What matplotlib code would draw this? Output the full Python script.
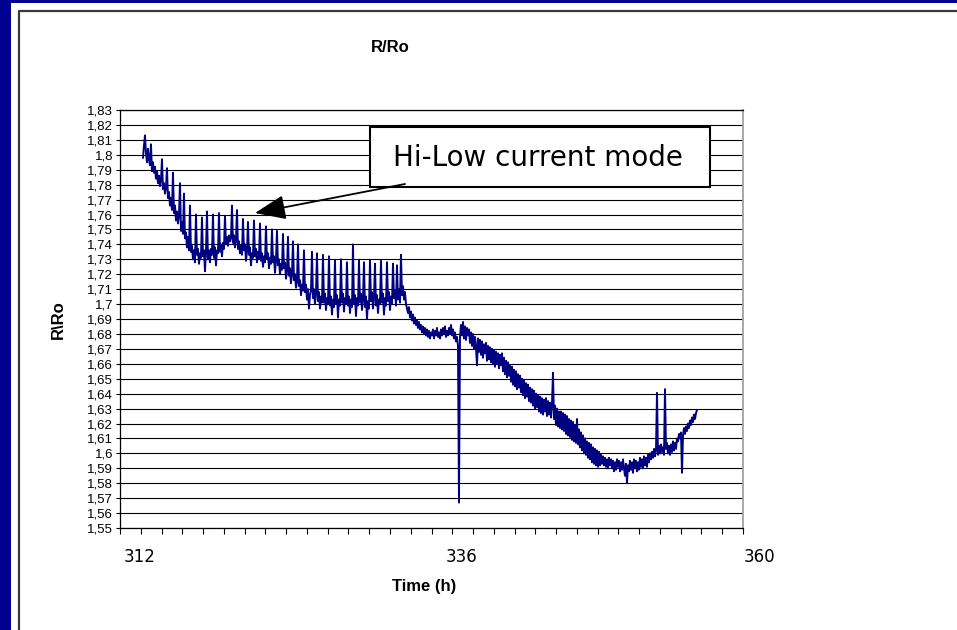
import numpy as np
import matplotlib
matplotlib.use("Agg")
import matplotlib.pyplot as plt
from matplotlib.patches import Rectangle

# ---------------- data ----------------
t_start = 313.77          # h, first sample
t_step = 0.07705          # h between samples
r_values = [
    # 313.8 h ... strongly decreasing part with hi/low spikes
    1.798, 1.806, 1.813, 1.801, 1.795, 1.804, 1.797, 1.793,
    1.807,
    1.789, 1.795, 1.788, 1.792, 1.784, 1.789, 1.781, 1.786, 1.779, 1.783,
    1.797,
    1.777, 1.781, 1.774, 1.778,
    1.791,
    1.771, 1.775, 1.766, 1.771, 1.763,
    1.788,
    1.761, 1.766, 1.756, 1.762, 1.754, 1.759,
    1.781,
    1.749, 1.755, 1.747,
    1.774,
    1.744, 1.748, 1.738, 1.745, 1.736,
    1.766,
    1.735, 1.739, 1.730, 1.736, 1.728,
    1.760,
    1.733, 1.737, 1.727, 1.734, 1.731,
    1.758,
    1.732, 1.736, 1.722, 1.735,
    1.762,
    1.730, 1.736, 1.728, 1.737, 1.733,
    1.760,
    1.731, 1.738, 1.726, 1.736, 1.734,
    1.761,
    1.735, 1.740, 1.732, 1.741, 1.737,
    1.759,
    1.740, 1.745, 1.739, 1.746, 1.742, 1.744,
    1.766,
    1.741, 1.746, 1.738, 1.743,
    1.763,
    1.737, 1.742, 1.734, 1.739, 1.733,
    1.757,
    1.736, 1.740, 1.729, 1.735,
    1.755,
    1.733, 1.738, 1.726, 1.734, 1.731,
    1.756,
    1.732, 1.737, 1.728, 1.735, 1.730,
    1.754,
    1.729, 1.734, 1.725, 1.732, 1.728,
    1.752,
    1.730, 1.734, 1.724, 1.731, 1.727,
    1.750,
    1.728, 1.732, 1.721, 1.729,
    1.749,
    1.726, 1.730, 1.720, 1.727, 1.723,
    1.747,
    1.724, 1.728, 1.717, 1.722,
    1.745,
    1.719, 1.724, 1.714, 1.720,
    1.742,
    1.716, 1.720, 1.711, 1.715,
    1.740,
    1.712, 1.716, 1.706, 1.713, 1.709,
    1.736,
    1.708, 1.713, 1.703, 1.710, 1.697, 1.706, 1.709,
    1.735,
    1.704, 1.710, 1.700, 1.707,
    1.734,
    1.702, 1.708, 1.697, 1.705, 1.701,
    1.733,
    1.701, 1.707, 1.696, 1.704, 1.700,
    1.732,
    1.699, 1.705, 1.693, 1.703, 1.698,
    1.729,
    1.700, 1.706, 1.691, 1.703, 1.699,
    1.730,
    1.701, 1.707, 1.695, 1.704, 1.700,
    1.728,
    1.699, 1.705, 1.694, 1.703, 1.698,
    1.740,
    1.700, 1.706, 1.692, 1.704, 1.699,
    1.729,
    1.701, 1.707, 1.696, 1.703,
    1.728,
    1.698, 1.705, 1.690, 1.702, 1.697,
    1.729,
    1.702, 1.708, 1.697, 1.704,
    1.727,
    1.699, 1.706, 1.694, 1.703, 1.700,
    1.729,
    1.701, 1.707, 1.693, 1.704, 1.699,
    1.728,
    1.702, 1.708, 1.696, 1.705, 1.700,
    1.727,
    1.704, 1.709, 1.699,
    1.726,
    1.703, 1.710, 1.701,
    1.733,
    1.706, 1.712, 1.703, 1.708, 1.700,
    # plateau near 1.68
    1.697, 1.694, 1.698, 1.691, 1.695, 1.689, 1.693, 1.687, 1.691, 1.686,
    1.689, 1.684, 1.688, 1.683, 1.686, 1.681, 1.685, 1.680, 1.684, 1.679,
    1.683, 1.678, 1.682, 1.677, 1.681, 1.679, 1.683, 1.677, 1.682, 1.679,
    1.684, 1.678, 1.681, 1.677, 1.683, 1.679, 1.684, 1.680, 1.685, 1.678,
    1.682, 1.679, 1.684, 1.680, 1.686, 1.679, 1.683, 1.677, 1.681, 1.675,
    1.678,
    1.672, 1.567, 1.678,
    # second decrease
    1.686, 1.679, 1.688, 1.677, 1.685, 1.676, 1.684, 1.679, 1.683, 1.674,
    1.681, 1.672, 1.680, 1.670, 1.678, 1.671, 1.659, 1.677, 1.668, 1.676,
    1.666, 1.675, 1.664, 1.673, 1.667, 1.674, 1.662, 1.672, 1.663, 1.671,
    1.661, 1.670, 1.660, 1.669, 1.658, 1.668, 1.660, 1.667, 1.657, 1.666,
    1.659, 1.667, 1.655, 1.664, 1.653, 1.662, 1.651, 1.661, 1.652, 1.659,
    1.648, 1.658, 1.646, 1.656, 1.645, 1.655, 1.643, 1.653, 1.644, 1.652,
    1.641, 1.650, 1.639, 1.649, 1.637, 1.647, 1.638, 1.646, 1.635, 1.644,
    1.634, 1.643, 1.632, 1.642, 1.630, 1.640, 1.631, 1.639, 1.628, 1.638,
    1.627, 1.637, 1.626, 1.636, 1.628, 1.637, 1.625, 1.635, 1.626, 1.634,
    1.624, 1.633,
    1.654,
    1.623, 1.632, 1.619, 1.630, 1.618, 1.628, 1.617,
    1.628, 1.616, 1.627, 1.615, 1.626, 1.613, 1.625, 1.612, 1.623, 1.611,
    1.622, 1.609, 1.621, 1.608, 1.619, 1.607, 1.623, 1.606, 1.616, 1.604,
    1.614, 1.602, 1.612, 1.600, 1.610, 1.599, 1.608, 1.597, 1.607, 1.596,
    1.606, 1.594, 1.604, 1.593, 1.603, 1.592, 1.602, 1.591, 1.601, 1.592,
    # minimum and recovery
    1.599, 1.593, 1.598, 1.592, 1.597, 1.591, 1.596, 1.590, 1.597, 1.592,
    1.596, 1.590, 1.595, 1.588, 1.594, 1.589, 1.596, 1.591, 1.595, 1.588,
    1.594, 1.589, 1.596, 1.590, 1.585, 1.593, 1.580, 1.592, 1.588, 1.595,
    1.589, 1.594, 1.587, 1.596, 1.590, 1.595, 1.588, 1.594, 1.589, 1.597,
    1.591, 1.596, 1.590, 1.598, 1.592, 1.597, 1.591, 1.599, 1.594, 1.600,
    1.596, 1.601, 1.597, 1.603, 1.598, 1.602,
    1.6405,
    1.599, 1.605, 1.600, 1.606, 1.601, 1.604, 1.599,
    1.643,
    1.603, 1.607, 1.600, 1.605, 1.599, 1.606, 1.601, 1.608, 1.602, 1.607,
    1.603, 1.610, 1.608, 1.613, 1.610, 1.614,
    1.587,
    1.612, 1.617, 1.613, 1.618, 1.615, 1.620, 1.617, 1.622, 1.619, 1.624,
    1.621, 1.626, 1.623, 1.627, 1.629,
]
times = t_start + t_step * np.arange(len(r_values))

ytick_values = [1.55, 1.56, 1.57, 1.58, 1.59, 1.60, 1.61, 1.62, 1.63, 1.64,
                1.65, 1.66, 1.67, 1.68, 1.69, 1.70, 1.71, 1.72, 1.73, 1.74,
                1.75, 1.76, 1.77, 1.78, 1.79, 1.80, 1.81, 1.82, 1.83]
ytick_labels = ['1,55', '1,56', '1,57', '1,58', '1,59', '1,6', '1,61', '1,62',
                '1,63', '1,64', '1,65', '1,66', '1,67', '1,68', '1,69', '1,7',
                '1,71', '1,72', '1,73', '1,74', '1,75', '1,76', '1,77', '1,78',
                '1,79', '1,8', '1,81', '1,82', '1,83']
xtick_labels = ['312', '336', '360']
xtick_label_pos = [313.5, 338.3, 361.3]   # where the labels sit (as in the source)
x_minor = np.linspace(312, 360, 31)

title = 'R/Ro'
xlabel = 'Time (h)'
ylabel = 'R\\Ro'
note = 'Hi-Low current mode'
note_target = (322.4, 1.761)

# ---------------- figure ----------------
W, H = 957, 630
fig = plt.figure(figsize=(W / 100, H / 100), dpi=100)
fig.patch.set_facecolor('white')

def fx(x):
    return x / W

def fy(y):
    return 1 - y / H

navy = '#000090'
fig.patches.append(Rectangle((0, 0), fx(11), 1, transform=fig.transFigure,
                             facecolor=navy, edgecolor='none', zorder=-5))
fig.patches.append(Rectangle((0, fy(3)), 1, 3 / H, transform=fig.transFigure,
                             facecolor=navy, edgecolor='none', zorder=-5))
fig.lines.append(plt.Line2D([fx(18.5), fx(18.5), 1], [0, fy(10.5), fy(10.5)],
                            transform=fig.transFigure, color='#3a3a3a', lw=1.6))

ax = fig.add_axes([fx(120), fy(528), (743 - 120) / W, (528 - 110) / H])
ax.plot(times, r_values, color='#000080', lw=1.4, zorder=3)

ax.set_xlim(312, 360)
ax.set_ylim(1.55, 1.83)
ax.set_yticks(ytick_values)
ax.set_yticklabels(ytick_labels, family='Liberation Sans', fontsize=9.5)
ax.yaxis.grid(True, color='black', lw=0.8)
ax.set_axisbelow(True)
ax.tick_params(axis='y', direction='out', length=3, width=0.8, pad=2)

ax.set_xticks([])
ax.set_xticks(x_minor, minor=True)
ax.tick_params(axis='x', which='minor', direction='out', length=4, width=0.8)
for pos, lab in zip(xtick_label_pos, xtick_labels):
    ax.text(pos, -0.07, lab, transform=ax.get_xaxis_transform(),
            ha='center', va='center', family='DejaVu Sans', fontsize=12,
            clip_on=False)

for s in ['left', 'bottom', 'top']:
    ax.spines[s].set_color('black')
    ax.spines[s].set_linewidth(0.9)
ax.spines['right'].set_color('#999999')
ax.spines['right'].set_linewidth(1.2)

fig.text(fx(390), fy(47), title, ha='center', va='center',
         family='Liberation Sans', fontweight='bold', fontsize=12)
fig.text(fx(424), fy(586), xlabel, ha='center', va='center',
         family='Liberation Sans', fontweight='bold', fontsize=12)
fig.text(fx(58), fy(320), ylabel, ha='center', va='center', rotation=90,
         family='Liberation Sans', fontweight='bold', fontsize=12)

# annotation box and arrow (drawn inside the axes, above the data)
ax.add_patch(Rectangle((fx(370), fy(187)), (710 - 370) / W, 60 / H,
                       transform=fig.transFigure, facecolor='white',
                       edgecolor='black', lw=1.5, zorder=5, clip_on=False))
ax.text(fx(538), fy(158), note, transform=fig.transFigure, ha='center',
        va='center', family='DejaVu Sans', fontsize=20, zorder=6,
        clip_on=False)
ax.annotate('', xy=note_target, xycoords='data',
            xytext=(fx(405), fy(184)), textcoords='figure fraction',
            arrowprops=dict(arrowstyle='-|>,head_length=0.95,head_width=0.38',
                            mutation_scale=20, lw=1.3, color='black',
                            shrinkA=0, shrinkB=0), zorder=7,
            annotation_clip=False)

fig.savefig('out.png', dpi=100)
